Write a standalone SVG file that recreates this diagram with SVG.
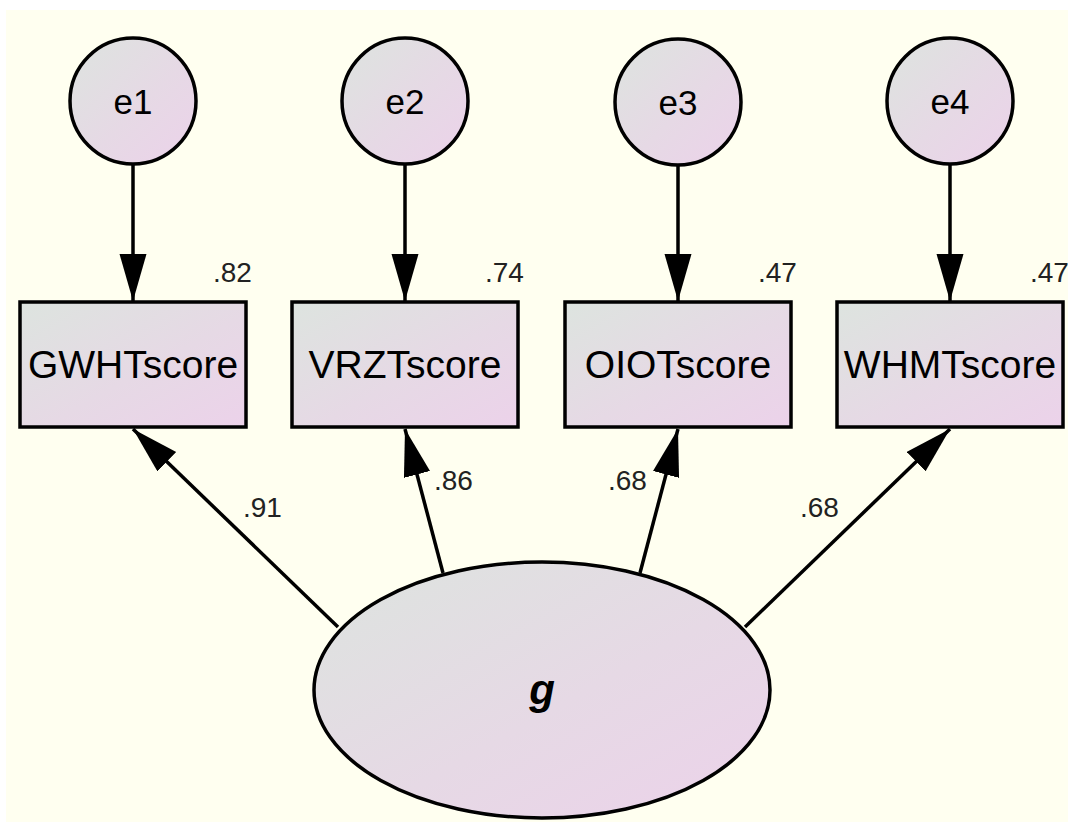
<svg xmlns="http://www.w3.org/2000/svg" width="1068" height="822" viewBox="0 0 1068 822">
  <defs>
    <linearGradient id="fillGrad" x1="0" y1="0" x2="1" y2="1">
      <stop offset="0" stop-color="#DDE4DF"/>
      <stop offset="0.55" stop-color="#E6D9E5"/>
      <stop offset="1" stop-color="#ECD2EA"/>
    </linearGradient>
    <marker id="arrow" markerUnits="userSpaceOnUse" markerWidth="48" markerHeight="28" refX="47" refY="13.5" orient="auto" viewBox="0 0 48 28">
      <path d="M0,0 L47,13.5 L0,27 Z" fill="#000"/>
    </marker>
    <style>
      .shape { fill: url(#fillGrad); stroke: #000; stroke-width: 3.5; }
      .edge { stroke: #000; stroke-width: 3.5; fill: none; marker-end: url(#arrow); }
      .lbl { font-family: "Liberation Sans", Arial, sans-serif; fill: #000; text-anchor: middle; }
      .var { font-size: 39px; }
      .err { font-size: 35px; }
      .coef { font-family: "Liberation Sans", Arial, sans-serif; font-size: 28px; fill: #222; }
      .lat { font-size: 42px; font-weight: bold; font-style: italic; }
    </style>
  </defs>

  <rect x="6" y="10" width="1062" height="812" fill="#FFFFF0"/>

  <g id="connectors">
    <line class="edge" x1="133" y1="165" x2="133" y2="301"/>
    <line class="edge" x1="405" y1="165" x2="405" y2="301"/>
    <line class="edge" x1="678" y1="166" x2="678" y2="301"/>
    <line class="edge" x1="950" y1="165" x2="950" y2="301"/>
    <line class="edge" x1="338" y1="627" x2="133" y2="429"/>
    <line class="edge" x1="443" y1="573" x2="405" y2="429"/>
    <line class="edge" x1="640" y1="573" x2="678" y2="429"/>
    <line class="edge" x1="745" y1="627" x2="950" y2="429"/>
    <text class="coef" x="243" y="517">.91</text>
    <text class="coef" x="434" y="490">.86</text>
    <text class="coef" x="608" y="490">.68</text>
    <text class="coef" x="800" y="517">.68</text>
  </g>

  <g id="e1">
    <circle class="shape" cx="133" cy="101" r="63"/>
    <text class="lbl err" x="133" y="114">e1</text>
  </g>
  <g id="e2">
    <circle class="shape" cx="405" cy="101" r="63"/>
    <text class="lbl err" x="405" y="114">e2</text>
  </g>
  <g id="e3">
    <circle class="shape" cx="678" cy="102" r="63"/>
    <text class="lbl err" x="678" y="115">e3</text>
  </g>
  <g id="e4">
    <circle class="shape" cx="950" cy="101" r="63"/>
    <text class="lbl err" x="950" y="114">e4</text>
  </g>

  <g id="GWHTscore">
    <rect class="shape" x="20" y="302" width="226" height="125"/>
    <text class="lbl var" x="133" y="378">GWHTscore</text>
    <text class="coef" x="213" y="282">.82</text>
  </g>
  <g id="VRZTscore">
    <rect class="shape" x="292" y="302" width="226" height="125"/>
    <text class="lbl var" x="405" y="378">VRZTscore</text>
    <text class="coef" x="485" y="282">.74</text>
  </g>
  <g id="OIOTscore">
    <rect class="shape" x="565" y="302" width="226" height="125"/>
    <text class="lbl var" x="678" y="378">OIOTscore</text>
    <text class="coef" x="758" y="282">.47</text>
  </g>
  <g id="WHMTscore">
    <rect class="shape" x="837" y="302" width="226" height="125"/>
    <text class="lbl var" x="950" y="378">WHMTscore</text>
    <text class="coef" x="1030" y="282">.47</text>
  </g>

  <g id="g">
    <ellipse class="shape" cx="542" cy="690" rx="228" ry="128"/>
    <text class="lbl lat" x="542" y="704">g</text>
  </g>
</svg>
